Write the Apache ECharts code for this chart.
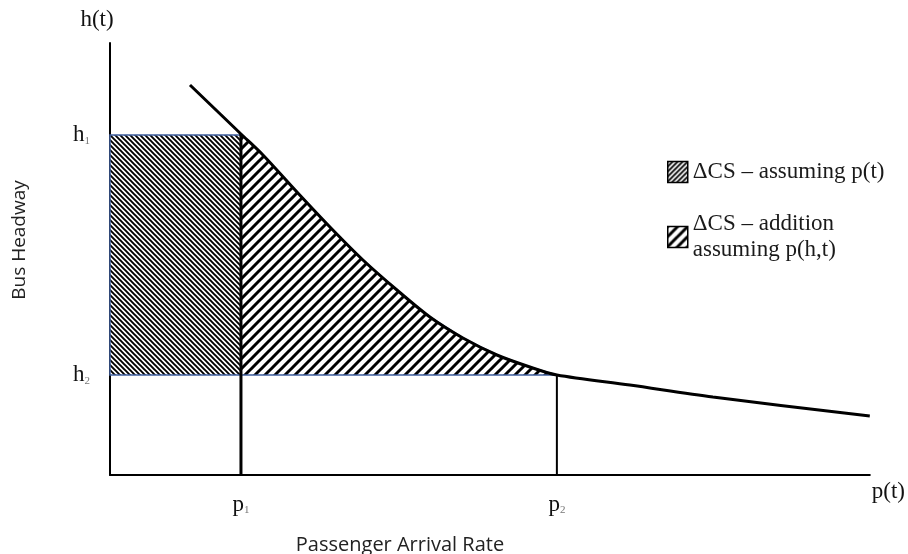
<!DOCTYPE html>
<html><head><meta charset="utf-8">
<script src="https://cdn.jsdelivr.net/npm/echarts@6/dist/echarts.min.js"></script>
<style>html,body{margin:0;padding:0;background:#fff}#c{width:908px;height:554px}</style>
</head><body><div id="c"></div>
<script>
// ---- data (arbitrary units) ----
const curveX = [80, 131, 153, 187, 220, 253, 287, 320, 353, 387, 420, 447, 520, 603, 760];
const curveY = [390, 341, 320, 283, 248, 215, 185, 158, 137, 120, 108, 100, 90, 78, 59];
const pTicks = [131, 447];      // p1, p2
const pSubs = ['1', '2'];
const hTicks = [100, 340];      // h2, h1
const hSubs = ['2', '1'];
const xMax = 760, yMax = 432;
const seriesNames = ['\u0394CS \u2013 assuming p(t)', '\u0394CS \u2013 addition\nassuming p(h,t)'];

const p1 = pTicks[0], p2 = pTicks[1], h2 = hTicks[0], h1 = hTicks[1];
const blue = '#3f5f9e';

function hatch(P, w, dir) {
  const c = document.createElement('canvas'); c.width = P; c.height = P;
  const g = c.getContext('2d');
  g.fillStyle = '#fff'; g.fillRect(0, 0, P, P);
  g.strokeStyle = '#000'; g.lineWidth = w;
  g.beginPath();
  for (const k of [-P, 0, P]) {
    if (dir === '/') { g.moveTo(k - 1, P + 1); g.lineTo(k + P + 1, -1); }
    else { g.moveTo(k - 1, -1); g.lineTo(k + P + 1, P + 1); }
  }
  g.stroke();
  return { image: c, repeat: 'repeat' };
}
const densePat = hatch(5, 1.9, '\\');
const widePat = hatch(10, 3, '/');
const legPat1 = hatch(5, 1.8, '/');
const legPat2 = hatch(10, 3, '/');

const chart = echarts.init(document.getElementById('c'), null, { renderer: 'canvas' });
const serif = 'Liberation Serif';
const richLab = {
  m: { fontFamily: serif, fontSize: 23, color: '#111' },
  s: { fontFamily: serif, fontSize: 11, color: '#777', verticalAlign: 'bottom' }
};

chart.setOption({
  animation: false,
  backgroundColor: '#fff',
  grid: { left: 110, right: 38, top: 43, bottom: 79 },
  xAxis: {
    type: 'value', min: 0, max: xMax,
    axisLine: { lineStyle: { color: '#000', width: 2 } },
    axisTick: { show: false }, splitLine: { show: false },
    axisLabel: {
      customValues: pTicks, margin: 18,
      formatter: v => '{m|p}{s|' + pSubs[pTicks.indexOf(v)] + '}',
      rich: richLab
    },
    name: 'p(t)', nameLocation: 'end', nameGap: 2,
    nameTextStyle: { fontFamily: serif, fontSize: 23, color: '#111', verticalAlign: 'top', padding: [5, 0, 0, 0] }
  },
  yAxis: {
    type: 'value', min: 0, max: yMax,
    axisLine: { lineStyle: { color: '#000', width: 2 } },
    axisTick: { show: false }, splitLine: { show: false },
    axisLabel: {
      customValues: hTicks, margin: 20,
      formatter: v => '{m|h}{s|' + hSubs[hTicks.indexOf(v)] + '}',
      rich: richLab
    },
    name: 'h(t)', nameLocation: 'end', nameGap: 12,
    nameTextStyle: { fontFamily: serif, fontSize: 23, color: '#111', padding: [0, 26, 0, 0] }
  },
  legend: {
    orient: 'vertical', left: 662, top: 154, icon: 'rect',
    itemWidth: 20, itemHeight: 21, itemGap: 26,
    textStyle: { fontFamily: serif, fontSize: 23, color: '#1a1a1a', lineHeight: 26 },
    data: [
      { name: seriesNames[0], itemStyle: { color: legPat1, borderColor: '#000', borderWidth: 1.5 } },
      { name: seriesNames[1], itemStyle: { color: legPat2, borderColor: '#000', borderWidth: 1.5 } }
    ]
  },
  graphic: [
    { type: 'text', x: 400, y: 545, style: { text: 'Passenger Arrival Rate', fontFamily: 'Open Sans', fontSize: 20, fill: '#222', align: 'center', verticalAlign: 'middle' } },
    { type: 'text', x: 20, y: 240, rotation: Math.PI / 2, style: { text: 'Bus Headway', fontFamily: 'Open Sans', fontSize: 19, fill: '#222', align: 'center', verticalAlign: 'middle' } }
  ],
  series: [
    {
      name: seriesNames[0], type: 'custom', coordinateSystem: 'cartesian2d', z: 1,
      data: [[0, h2]],
      renderItem: (params, api) => {
        const pts = [[0, h2], [0, h1], [p1, h1], [p1, h2]].map(p => api.coord(p));
        return { type: 'polygon', shape: { points: pts }, style: { fill: densePat, stroke: blue, lineWidth: 1.5 } };
      }
    },
    {
      name: seriesNames[1], type: 'custom', coordinateSystem: 'cartesian2d', z: 1,
      data: [[p1, h2]],
      renderItem: (params, api) => {
        const pts = [[p1, h2]];
        curveX.forEach((x, i) => { if (x >= p1 && x <= p2) pts.push([x, curveY[i]]); });
        pts.push([p2, h2]);
        return { type: 'polygon', shape: { points: pts.map(p => api.coord(p)) }, style: { fill: widePat, stroke: blue, lineWidth: 1.5 } };
      }
    },
    {
      name: 'curve', type: 'line', z: 5, smooth: 0.3, symbol: 'none',
      data: curveX.map((x, i) => [x, curveY[i]]),
      lineStyle: { color: '#000', width: 3 }
    },
    {
      name: 'p1 drop', type: 'line', z: 6, symbol: 'none',
      data: [[p1, 0], [p1, curveY[curveX.indexOf(p1)]]],
      lineStyle: { color: '#000', width: 3 }
    },
    {
      name: 'p2 drop', type: 'line', z: 6, symbol: 'none',
      data: [[p2, 0], [p2, curveY[curveX.indexOf(p2)]]],
      lineStyle: { color: '#000', width: 2 }
    }
  ]
});
</script></body></html>
